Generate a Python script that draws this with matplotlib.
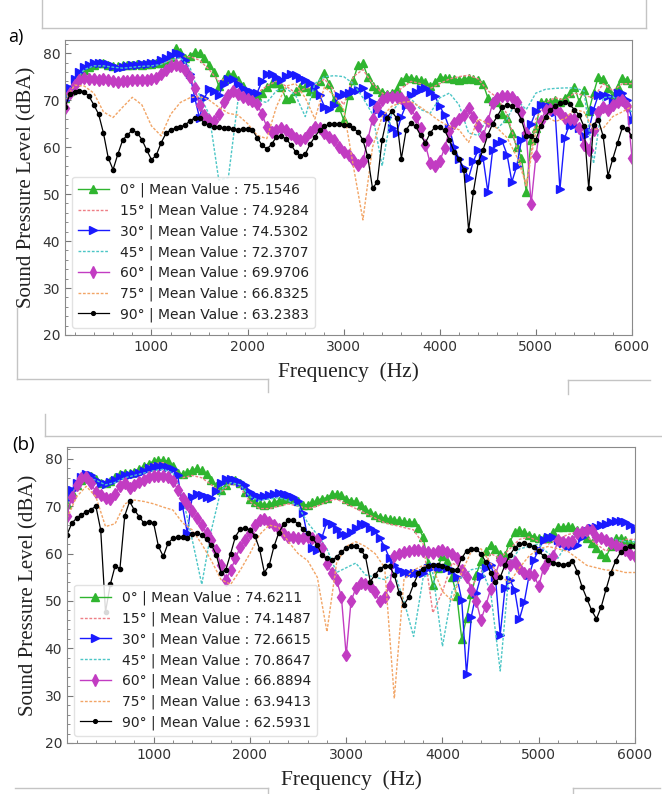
import numpy as np
import matplotlib
matplotlib.use('Agg')
import matplotlib.pyplot as plt
from matplotlib.lines import Line2D
from matplotlib.ticker import AutoMinorLocator

# frequency grids (Hz)
freq = np.arange(100, 6001, 50)      # marker series
freq_c = np.arange(100, 6001, 100)   # dotted series

angles = ['0°', '15°', '30°', '45°', '60°', '75°', '90°']
means_a = ['75.1546', '74.9284', '74.5302', '72.3707', '69.9706', '66.8325', '63.2383']
means_b = ['74.6211', '74.1487', '72.6615', '70.8647', '66.8894', '63.9413', '62.5931']

# ---------------- panel a ----------------
g_a = [70.5, 72, 74, 75.5, 76.5, 77, 77.5, 77.8, 77.8, 77.5,
       77.3, 77.2, 77.4, 77.5, 77.5, 77.6, 77.5, 77.6, 77.7, 77.8,
       78, 78.5, 79.2, 81, 80.2, 79, 79.5, 80.2, 80, 79,
       77.5, 76, 73, 74.5, 75.5, 75.5, 74.3, 73, 71.5, 70.6,
       70.8, 71.5, 72.8, 73.6, 73.6, 72.8, 70.2, 70.5, 72, 72.8,
       72.8, 72, 71.5, 74, 75.7, 73.5, 70, 68.5, 65.8, 71,
       74.3, 77.5, 77.8, 75, 73, 72.3, 71.8, 71.4, 71.6, 72.3,
       74, 75, 74.8, 74.5, 74.3, 73.8, 73, 73.8, 75, 74.8,
       74.7, 74.5, 74.3, 74.5, 74.7, 74.6, 74.3, 73.5, 70.5, 69.9,
       69.7, 67, 66.3, 63, 60.1, 57.7, 50.5, 61.6, 64, 69.7,
       69.5, 69.6, 70, 69.7, 70.5, 71.5, 72.9, 69.7, 72.2, 67.6,
       71.5, 75, 74.5, 72.5, 70.8, 72.9, 74.7, 74.3, 73.6]

b_a = [70, 72.5, 74.5, 76, 77, 77.5, 77.8, 78, 77.8, 77.6,
       77.2, 76.8, 77, 77.3, 77.5, 77.5, 77.6, 77.7, 77.8, 78,
       78.5, 79, 79.6, 80, 79.8, 78.5, 75.5, 70.5, 66.2, 70.5,
       72.3, 72, 71, 73.5, 74.6, 74.5, 73.4, 72.6, 72, 71.8,
       71.6, 74, 75.6, 75.5, 75, 74.3, 75.2, 75.6, 75.4, 74.8,
       74.3, 73.6, 72.8, 71, 68.6, 68.2, 69, 70.8, 71.4, 71.6,
       72, 72.1, 72.5, 71, 69.5, 68, 67.2, 66.4, 64, 63,
       66.5, 69, 71, 71.8, 72.4, 72.5, 71.8, 70.8, 68.7, 66.8,
       64, 60, 57.5, 55.5, 53.5, 57, 59.4, 57.7, 50.5, 59.4,
       60.9, 61.2, 58.4, 52.6, 55.9, 61.6, 62.3, 65, 67.6, 69,
       68.8, 68.5, 67.5, 51, 62, 64.8, 64.6, 64, 62.3, 63.5,
       68, 71.1, 71.1, 70.8, 69.7, 71.5, 71.6, 70, 65.8]

m_a = [68.3, 71.5, 73.3, 74.3, 74.8, 74.6, 74.5, 74.3, 74.4, 74.2,
       74, 73.9, 74, 74.1, 74.2, 74.3, 74.3, 74.2, 74.4, 74.8,
       75.6, 76.5, 77.2, 77.5, 77.2, 76.5, 75, 72.5, 69, 66.8,
       65.8, 65.5, 67, 69.5, 71, 72, 71.4, 70.7, 70.2, 69.8,
       69.2, 67, 64.3, 63.3, 63.6, 64, 63.7, 62.7, 61.9, 61.5,
       62, 63.3, 64.3, 64, 63, 62.2, 61.5, 60, 59, 58.3,
       57.3, 56.2, 57, 61.5, 66, 68.5, 70, 70.6, 70.7, 70.7,
       70.5, 69.7, 68.3, 66.4, 64, 60.5, 56.6, 56, 57, 59.8,
       63.5, 65.2, 66, 66.9, 68.3, 66.5, 64.4, 62.3, 65.5, 69.4,
       70.5, 70.8, 70.8, 70.6, 69.6, 67.5, 63, 47.8, 58, 65.5,
       67.8, 68.2, 68.1, 67.2, 66.2, 66, 66, 64, 60.5, 59.4,
       63.7, 67.5, 68.6, 68, 69, 69.7, 70, 68.7, 57.7]

k_a = [68.5, 71.2, 71.8, 72, 71.8, 70.8, 69, 67, 63, 57.7,
       55.2, 58.5, 61.5, 62.6, 63.6, 63.1, 61.6, 59.4, 57.3, 58.3,
       60.9, 62.9, 63.7, 64, 64.3, 64.7, 65.6, 66.2, 66.1, 65.2,
       64.6, 64.3, 64.2, 64.1, 64, 63.9, 63.7, 63.8, 63.8, 63.6,
       62, 60.4, 59.6, 60.6, 62.2, 62.3, 61.8, 60.5, 59, 58.2,
       58.5, 60.6, 62.2, 63.6, 64.4, 64.9, 65, 65, 64.8, 64.6,
       64, 63.2, 61.5, 58, 51.2, 52.6, 61.6, 66.3, 67.6, 66.2,
       57.5, 63.7, 65.1, 64.4, 62.5, 60.9, 63, 64.3, 64.2, 63.6,
       61.5, 59, 57.4, 55.2, 42.3, 50.5, 56.8, 59.4, 62.6, 65,
       66.6, 68.5, 69, 68.8, 67.8, 65.8, 62.3, 62.3, 61.6, 64.5,
       66.5, 67.9, 68.7, 69.3, 69.7, 69.1, 68, 66.8, 64.4, 51.2,
       64.8, 65.8, 62.3, 53.9, 57.5, 60.9, 64.2, 63.8, 62.3]

d15_a = [71, 74, 76.5, 77.5, 77.7, 77.4, 77.3, 77.4, 77.5, 77.6,
         77.8, 78.5, 79, 79.3, 78.5, 76.5, 74, 74.8, 74, 72,
         71.5, 73, 74, 73, 71.5, 72.5, 73, 74.5, 72, 69,
         75, 76.5, 73.5, 71.5, 70.5, 72.5, 74, 73.5, 72.5, 73.5,
         74.5, 75, 75.3, 74.5, 72, 70.5, 67, 60, 51.5, 66,
         69.5, 70.5, 70, 71.5, 71, 70.5, 73.5, 72, 73.5, 73.5]

d45_a = [70.5, 74, 76.5, 77.3, 77.3, 77, 76.8, 77, 77.2, 77.3,
         77.6, 78.5, 79, 77, 71, 67, 53, 53.5, 70, 70.5,
         70, 69.5, 72, 72.5, 71, 66.5, 73.5, 75, 75.2, 75,
         73.5, 70.5, 67, 56, 67.5, 70, 70.3, 68, 67.2, 70.5,
         71.5, 69, 63, 62.5, 66.5, 64, 66, 70, 68, 71.5,
         72.3, 72.5, 72.6, 72.6, 72, 56.5, 70.5, 70.8, 69, 67.5]

d75_a = [70, 73.2, 73, 71.5, 67.5, 66.3, 68.5, 70.6, 69, 64.5,
         62.4, 67, 69.5, 70.5, 70.8, 70, 68.5, 67.2, 66.8, 65,
         62.5, 61.8, 68.6, 73, 73.5, 70.5, 66, 72.8, 71, 68,
         56, 44.5, 60, 66.5, 68.7, 69.5, 69.7, 68.5, 67, 65.5,
         64.4, 63.7, 61, 66, 65, 64, 62, 58, 52, 63.5,
         66.5, 65.5, 66, 68, 67.5, 63.7, 64, 66.5, 67.5, 68.7]

# ---------------- panel b ----------------
g_b = [70.5, 73, 74.5, 75.5, 76, 76.3, 75.8, 75, 74.8, 75.3,
       76.2, 76.8, 77, 77, 77.3, 77.8, 78.5, 79, 79.5, 79.8,
       79.7, 79.5, 78.5, 77, 76.8, 77.3, 77.6, 78, 77.6, 76.8,
       75.5, 74.2, 73.5, 74.5, 75.5, 75.5, 74.8, 73, 71.5, 70.8,
       70.5, 70.3, 70.5, 70.8, 71.2, 71.6, 71.8, 71.5, 71, 70.3,
       70.3, 70.8, 71.3, 71.6, 71.8, 72.5, 72.6, 72.3, 71.6, 71.2,
       71, 70.2, 69.5, 68.8, 68.2, 67.8, 67.5, 67.3, 67.1, 67,
       66.8, 66.7, 66.6, 65.5, 63.4, 58, 53.3, 57, 59.5, 58.5,
       55, 51, 42, 46.4, 51.5, 55.5, 58.4, 60.5, 61.9, 61,
       60, 59.6, 62.5, 64.5, 64.9, 64.5, 64, 63.6, 63.3, 63.2,
       63.3, 64.5, 65.6, 65.6, 65.8, 65.6, 65, 64, 63.3, 62.2,
       61.2, 60, 59.3, 61.5, 63.3, 63.2, 62.8, 62.3, 62]

b_b = [71.5, 73.5, 75, 76.2, 76.8, 76.5, 75.5, 74.8, 74.7, 75.2,
       75.6, 76.2, 76.5, 76.6, 76.8, 77, 77.5, 78, 78.3, 78.5,
       78.5, 78.3, 77.8, 76.5, 70, 64.3, 72, 72.5, 72.3, 72,
       71.8, 73.3, 75, 75.8, 75.8, 75.6, 75.2, 74.5, 73, 72.3,
       72, 72.2, 72.4, 72.6, 72.7, 72.6, 72.4, 72, 71.2, 68.5,
       63.5, 61.2, 60.8, 63.5, 66.7, 66.2, 65.2, 64.2, 64, 64.6,
       65.4, 66.2, 66.3, 65.5, 64.7, 63.3, 61.4, 59, 57.6, 56.5,
       56.2, 56, 55.9, 55.9, 56, 56.9, 57.1, 57.2, 57.1, 57,
       56.5, 55.1, 50.2, 34.5, 46.7, 51.6, 55.3, 57, 57.5, 55,
       42.8, 52.8, 54.5, 52.3, 46.2, 49.8, 55.4, 58.7, 60.8, 62.9,
       63.6, 63.6, 62.9, 62.2, 61.5, 61.5, 61.8, 63.5, 64.8, 65.3,
       65.7, 66, 66.3, 66.6, 66.8, 66.8, 66.6, 66, 65.2]

m_b = [68, 72, 74.5, 76, 76.2, 74.8, 73, 72.3, 71.7, 71.5,
       72.5, 74.3, 75, 73.8, 74.5, 75.2, 75.6, 76.1, 76.3, 76.3,
       76.3, 76.2, 75.4, 73.5, 71.8, 70.4, 69, 67.5, 66, 64.3,
       62.8, 60.7, 57.5, 54.4, 56.5, 59, 61.4, 62.8, 64.4, 66,
       67, 67.2, 66.6, 66, 65.2, 64.2, 63.6, 63.4, 63.2, 63.3,
       63.4, 63.2, 62.8, 61.2, 57.9, 56, 54.4, 50.9, 38.5, 49.9,
       52.7, 53.8, 53.6, 53.1, 51.8, 49.9, 50.9, 53.1, 59.4, 60,
       60.4, 60.6, 60.8, 60.7, 60.5, 60.3, 60.2, 60.5, 60.8, 60.3,
       60, 59, 56.5, 55.1, 52.3, 50, 46, 49, 52.5, 55.5,
       58.7, 58, 57.6, 58.3, 57, 55.8, 55.6, 55.5, 53.1, 57,
       58.5, 59.4, 62.9, 62.5, 62.5, 62.6, 64.3, 64.6, 64.9, 65,
       63.4, 63.2, 62.9, 62.3, 61.8, 61.2, 60.8, 60, 59.4]

k_b = [64, 66.4, 67.5, 68.2, 68.8, 69.3, 70, 65, 47.7, 53.5,
       57.4, 56.8, 68, 71, 69.2, 67.8, 66.4, 66.7, 66.4, 61.5,
       59.4, 62.2, 63.2, 63.5, 63.4, 63.3, 64.2, 64.3, 63.9, 63,
       61.8, 59.8, 56, 56.6, 60, 63.6, 65.2, 65.4, 65, 63.8,
       61, 56, 57.5, 61.5, 64.4, 66.2, 67, 67, 66.3, 65.2,
       64.3, 63.3, 61.8, 59.6, 59, 58.7, 59.2, 60.4, 61.1, 61.5,
       61.5, 60.8, 59.4, 54.1, 55.5, 56.8, 57.4, 57.3, 55.5, 51.7,
       49.2, 50.8, 53.5, 55.8, 56.8, 57.3, 57.5, 57.5, 57.3, 57,
       56.6, 56.5, 59, 60.6, 61, 60.9, 60, 58.2, 56, 54,
       55, 57.6, 59.7, 61.2, 62, 62.2, 61.8, 61.3, 60.5, 59.5,
       58.6, 58.1, 57.9, 57.6, 57.9, 58.5, 56.2, 53, 50.5, 48,
       46.2, 48.8, 52.5, 56, 58.5, 60.3, 61.1, 61.5, 61.5]

d15_b = [70, 74, 75.5, 75, 74, 75.5, 76.5, 77, 78, 79,
         79.2, 78, 76, 76.5, 76, 74.5, 73, 74.8, 74, 71,
         69.5, 69.5, 70, 70.5, 70, 69.5, 70, 71, 71.5, 70.5,
         69.5, 68.5, 67.5, 66.5, 66, 65.5, 65, 62, 47.5, 52,
         58, 57, 53, 56, 60, 59, 61, 63, 63.5, 62.5,
         62, 63, 64, 64.5, 63.5, 62, 60.5, 62, 63, 63]

d45_b = [70.5, 74.5, 76, 75.5, 74.5, 75, 76, 76.5, 77, 77.5,
         77.8, 77, 72, 63, 53.5, 65, 73.5, 75, 74.5, 72,
         71.2, 71.5, 71.8, 71.2, 70, 66.5, 64, 61, 56, 57,
         58, 55.5, 55, 54.5, 56, 50, 42.5, 55, 56, 40.4,
         52, 55, 56.6, 57, 52, 35.2, 58, 61, 61.5, 62,
         60, 59, 62.5, 64, 64.5, 64, 63.5, 63, 62.5, 62.5]

d75_b = [67.5, 72, 74.2, 72, 65.7, 66.3, 70.5, 71.3, 71, 70.5,
         69.8, 69.2, 66.5, 65, 62, 58.5, 54.5, 53.5, 56.5, 60,
         64, 66, 65.5, 62.5, 60, 58.5, 55, 43.5, 58, 61.5,
         62.5, 61.5, 60, 57, 29.4, 54.5, 56.5, 57.5, 57, 52,
         50, 56, 60.5, 61, 58, 55, 54, 57, 59.5, 61,
         61.5, 61, 60.5, 59, 57.5, 57, 56.5, 56.5, 56, 56]

C_G = '#2fb52f'
C_15 = '#ee7f86'
C_B = '#1a1aff'
C_45 = '#4cc6c6'
C_M = '#c23cc2'
C_75 = '#f2a566'
dots = (0, (2, 1.2))


def draw(ax, g, d15, b, d45, m, d75, k, means, ytop):
    labels = [a + ' | Mean Value : ' + v for a, v in zip(angles, means)]
    ax.plot(freq, g, '-^', color=C_G, ms=5.8, lw=1, label=labels[0])
    ax.plot(freq_c, d15, color=C_15, ls=dots, lw=1, label=labels[1])
    ax.plot(freq, b, '->', color=C_B, ms=5.8, lw=1, label=labels[2])
    ax.plot(freq_c, d45, color=C_45, ls=dots, lw=1, label=labels[3])
    ax.plot(freq, m, '-d', color=C_M, ms=6.5, lw=1, label=labels[4])
    ax.plot(freq_c, d75, color=C_75, ls=dots, lw=1, label=labels[5])
    ax.plot(freq, k, '-o', color='black', ms=3, lw=0.9, label=labels[6])
    ax.set_xlim(100, 6000)
    ax.set_ylim(20, ytop)
    ax.set_xticks([1000, 2000, 3000, 4000, 5000, 6000])
    ax.set_yticks([20, 30, 40, 50, 60, 70, 80])
    ax.xaxis.set_minor_locator(AutoMinorLocator(5))
    ax.yaxis.set_minor_locator(AutoMinorLocator(5))
    ax.tick_params(which='both', direction='in', colors='#777777', labelcolor='#333333',
                   labelsize=10)
    ax.tick_params(which='major', length=4)
    ax.tick_params(which='minor', length=2)
    for s in ax.spines.values():
        s.set_color('#8a8a8a')
    ax.set_ylabel('Sound Pressure Level (dBA)', family='Liberation Serif', fontsize=15,
                  color='#222222', labelpad=4)
    ax.set_xlabel('Frequency  (Hz)', family='Liberation Serif', fontsize=15.5,
                  color='#222222', labelpad=6)
    leg = ax.legend(loc='lower left', fontsize=10, labelspacing=0.45, borderpad=0.45,
                    handlelength=2.2, framealpha=0.85, borderaxespad=0.5, markerscale=0.9)
    leg.get_frame().set_edgecolor('#dddddd')
    for t in leg.get_texts():
        t.set_color('#222222')


fig = plt.figure(figsize=(6.62, 7.94), dpi=100)
W, H = 662.0, 794.0
ax_a = fig.add_axes([65 / W, 1 - 335 / H, 567 / W, 295 / H])
ax_b = fig.add_axes([67 / W, 1 - 743 / H, 568 / W, 296 / H])

draw(ax_a, g_a, d15_a, b_a, d45_a, m_a, d75_a, k_a, means_a, 82.8)
draw(ax_b, g_b, d15_b, b_b, d45_b, m_b, d75_b, k_b, means_b, 82.5)

fig.text(8 / W, 1 - 37 / H, 'a)', family='Open Sans', fontsize=13, va='center', ha='left')
fig.text(12 / W, 1 - 445 / H, '(b)', family='Open Sans', fontsize=13.5, va='center', ha='left')

# page frame lines around the two panels
frame = [((42, 0), (42, 28)), ((42, 28), (646, 28)), ((646, 0), (646, 28)),
         ((17, 308), (17, 379)), ((17, 379), (268, 379)), ((268, 379), (268, 392)),
         ((568, 380), (650, 380)), ((568, 380), (568, 394)),
         ((45, 436), (662, 436)), ((45, 414), (45, 436)),
         ((15, 788), (268, 788)), ((268, 788), (268, 794)),
         ((573, 788), (660, 788)), ((573, 788), (573, 794))]
for (x0, y0), (x1, y1) in frame:
    fig.add_artist(Line2D([x0 / W, x1 / W], [1 - y0 / H, 1 - y1 / H],
                          transform=fig.transFigure, color='#c4c4c4', lw=1))

fig.savefig('out.png', dpi=100)
